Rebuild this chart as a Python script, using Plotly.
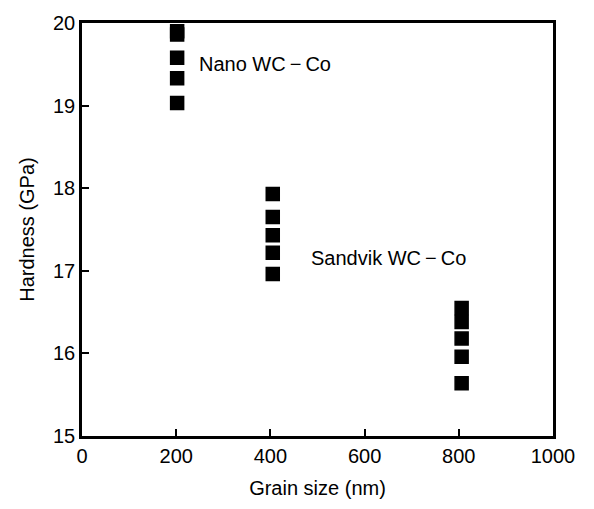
import plotly.graph_objects as go

nano_x = [202, 202, 202, 202, 202]
nano_y = [19.9, 19.86, 19.58, 19.33, 19.03]
sandvik_x = [405, 405, 405, 405, 405]
sandvik_y = [17.93, 17.65, 17.43, 17.22, 16.96]
c800_x = [806, 806, 806, 806, 806]
c800_y = [16.55, 16.38, 16.18, 15.96, 15.64]

x_ticks = [0, 200, 400, 600, 800, 1000]
y_ticks = [15, 16, 17, 18, 19, 20]

FONT = "Liberation Sans, Arial, Helvetica, sans-serif"

fig = go.Figure()
for xs, ys in [(nano_x, nano_y), (sandvik_x, sandvik_y), (c800_x, c800_y)]:
    fig.add_trace(go.Scatter(
        x=xs, y=ys, mode="markers",
        marker=dict(symbol="square", size=13, color="black",
                    line=dict(color="black", width=1.5)),
        showlegend=False, cliponaxis=False))

fig.add_annotation(x=245, y=19.5, xref="x", yref="y",
                   text="Nano WC\u2009\u2212\u2009Co",
                   showarrow=False, xanchor="left", yanchor="middle",
                   font=dict(family=FONT, size=20, color="black"))
fig.add_annotation(x=482, y=17.15, xref="x", yref="y",
                   text="Sandvik WC\u2009\u2212\u2009Co",
                   showarrow=False, xanchor="left", yanchor="middle",
                   font=dict(family=FONT, size=20, color="black"))

fig.update_layout(
    width=594, height=509,
    margin=dict(l=82, r=41, t=17, b=70),
    paper_bgcolor="white", plot_bgcolor="white",
    font=dict(family=FONT, size=20, color="black"),
    xaxis=dict(range=[0, 1000], tickvals=x_ticks, ticks="inside", ticklen=7,
               tickwidth=2, tickcolor="black", showline=True, linecolor="black",
               linewidth=2.5, mirror=True, showgrid=False, zeroline=False,
               tickfont=dict(size=20),
               title=dict(text="Grain size (nm)", standoff=16,
                          font=dict(family=FONT, size=20))),
    yaxis=dict(range=[15, 20], tickvals=y_ticks, ticks="inside", ticklen=7,
               tickwidth=2, tickcolor="black", showline=True, linecolor="black",
               linewidth=2.5, mirror=True, showgrid=False, zeroline=False,
               tickfont=dict(size=20),
               title=dict(text="Hardness (GPa)", standoff=14,
                          font=dict(family=FONT, size=20))),
)

fig.write_html("out.html")
